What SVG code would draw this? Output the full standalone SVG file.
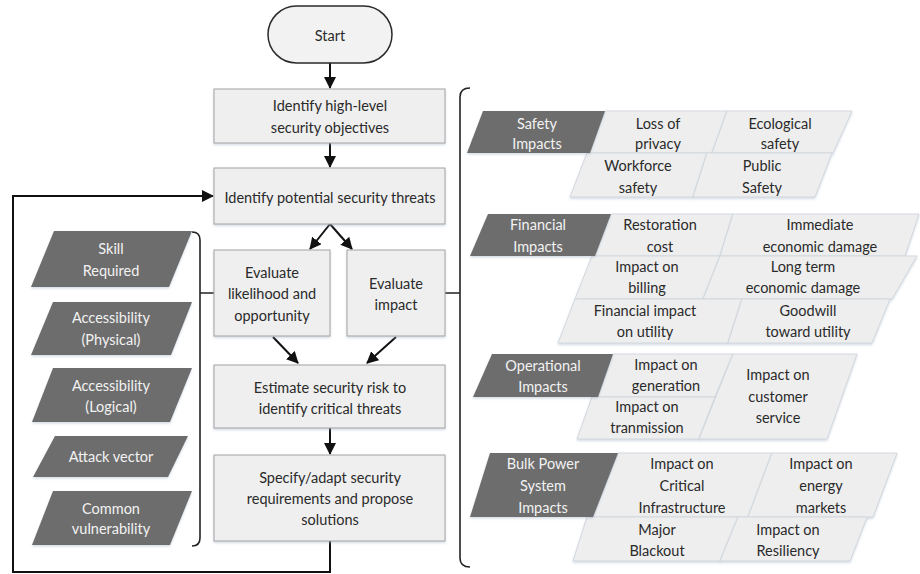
<svg xmlns="http://www.w3.org/2000/svg" width="920" height="574" viewBox="0 0 920 574">
<defs>
<style>
text{font-family:Lato,"Open Sans","Liberation Sans",sans-serif;font-size:14.5px;text-anchor:middle;dominant-baseline:central;fill:#2a2a2a}
.box{fill:#efefef;stroke:#a3a3a3;stroke-width:1;filter:url(#sh)}
.term{fill:#f2f2f2;stroke:#2a2a2a;stroke-width:1.5}
.dark{fill:#6d6d6d;filter:url(#sh)}
.dt{fill:#f2f2f2}
.cell{fill:#eeeeee;stroke:#d3d8de;stroke-width:1;filter:url(#sh)}
.ln{fill:none;stroke:#111;stroke-width:2}
.br{fill:none;stroke:#222;stroke-width:1.6}
</style>
<filter id="sh" x="-10%" y="-10%" width="120%" height="130%"><feDropShadow dx="0" dy="1.5" stdDeviation="1.2" flood-color="#9fb0c4" flood-opacity="0.45"/></filter>
<marker id="ah" markerWidth="12" markerHeight="12" refX="11" refY="6" orient="auto" markerUnits="userSpaceOnUse"><path d="M0,0 L12,6 L0,12 Z" fill="#111"/></marker>
</defs>
<rect width="920" height="574" fill="#ffffff"/>

<g id="connectors">
<path class="ln" d="M330,63 L330,88" marker-end="url(#ah)"/>
<path class="ln" d="M330,143 L330,167" marker-end="url(#ah)"/>
<path class="ln" d="M330,224 L310,249" marker-end="url(#ah)"/>
<path class="ln" d="M330,224 L352,249" marker-end="url(#ah)"/>
<path class="ln" d="M273,337 L298,363" marker-end="url(#ah)"/>
<path class="ln" d="M396,337 L367,363" marker-end="url(#ah)"/>
<path class="ln" d="M330,428 L330,454" marker-end="url(#ah)"/>
<path class="ln" d="M330,541 L330,572 L13,572 L13,196 L213,196" marker-end="url(#ah)"/>
<path class="br" d="M192,232 Q200,232 200,240 L200,538 Q200,546 192,546 M200,293 L215,293"/>
<path class="br" d="M470,88 Q460,88 460,97 L460,558 Q460,567 470,567 M445,293 L460,293"/>
</g>

<g id="start"><rect class="term" x="268" y="6" width="124" height="57" rx="28.5"/><text x="330" y="35">Start</text></g>
<g id="objectives"><rect class="box" x="214" y="89" width="231" height="54"/><text x="330" y="105">Identify high-level</text><text x="330" y="127">security objectives</text></g>
<g id="threats"><rect class="box" x="214" y="168" width="231" height="56"/><text x="330" y="197">Identify potential security threats</text></g>
<g id="likelihood"><rect class="box" x="214" y="250" width="116" height="86"/><text x="272" y="272">Evaluate</text><text x="272" y="293">likelihood and</text><text x="272" y="315">opportunity</text></g>
<g id="impact"><rect class="box" x="347" y="250" width="98" height="86"/><text x="396" y="283">Evaluate</text><text x="396" y="304">impact</text></g>
<g id="estimate"><rect class="box" x="214" y="365" width="231" height="63"/><text x="330" y="387">Estimate security risk to</text><text x="330" y="408">identify critical threats</text></g>
<g id="specify"><rect class="box" x="214" y="455" width="231" height="86"/><text x="330" y="477">Specify/adapt security</text><text x="330" y="498">requirements and propose</text><text x="330" y="519">solutions</text></g>

<g id="skill"><polygon class="dark" points="54,231 192,231 169,287 31,287"/><text class="dt" x="111" y="248">Skill</text><text class="dt" x="111" y="270">Required</text></g>
<g id="acc-phys"><polygon class="dark" points="53,302 192,302 171,355 31,355"/><text class="dt" x="111" y="317">Accessibility</text><text class="dt" x="111" y="339">(Physical)</text></g>
<g id="acc-log"><polygon class="dark" points="53,368 192,368 170,422 32,422"/><text class="dt" x="111" y="385">Accessibility</text><text class="dt" x="111" y="406">(Logical)</text></g>
<g id="attack"><polygon class="dark" points="55,436 188,436 168,477 33,477"/><text class="dt" x="111" y="456">Attack vector</text></g>
<g id="common"><polygon class="dark" points="53,491 192,491 170,545 32,545"/><text class="dt" x="111" y="508">Common</text><text class="dt" x="111" y="528">vulnerability</text></g>

<g id="safety">
<polygon class="cell" points="605,111 727,111 712,153 590,153"/>
<polygon class="cell" points="727,111 852,111 833,153 712,153"/>
<polygon class="cell" points="587,153 707,153 693,197 570,197"/>
<polygon class="cell" points="707,153 832,153 815,197 693,197"/>
<polygon class="dark" points="483,111 605,111 590,153 467,153"/>
<text class="dt" x="537" y="123">Safety</text><text class="dt" x="537" y="143">Impacts</text>
<text x="658" y="123">Loss of</text><text x="658" y="143">privacy</text>
<text x="780" y="123">Ecological</text><text x="780" y="143">safety</text>
<text x="638" y="165">Workforce</text><text x="638" y="187">safety</text>
<text x="762" y="165">Public</text><text x="762" y="187">Safety</text>
</g>

<g id="financial">
<polygon class="cell" points="611,214 733,214 720,256 595,256"/>
<polygon class="cell" points="733,214 919,214 905,256 720,256"/>
<polygon class="cell" points="592,256 720,256 703,299 575,299"/>
<polygon class="cell" points="720,256 917,256 892,299 703,299"/>
<polygon class="cell" points="575,299 742,299 728,343 558,343"/>
<polygon class="cell" points="742,299 890,299 872,343 728,343"/>
<polygon class="dark" points="488,214 611,214 595,256 470,256"/>
<text class="dt" x="538" y="224">Financial</text><text class="dt" x="538" y="246">Impacts</text>
<text x="660" y="224">Restoration</text><text x="660" y="246">cost</text>
<text x="820" y="224">Immediate</text><text x="820" y="246">economic damage</text>
<text x="647" y="266">Impact on</text><text x="647" y="287">billing</text>
<text x="803" y="266">Long term</text><text x="803" y="287">economic damage</text>
<text x="645" y="310">Financial impact</text><text x="645" y="331">on utility</text>
<text x="808" y="310">Goodwill</text><text x="808" y="331">toward utility</text>
</g>

<g id="operational">
<polygon class="cell" points="613,354 733,354 715,397 598,397"/>
<polygon class="cell" points="592,397 715,397 699,439 577,439"/>
<polygon class="cell" points="733,354 857,354 827,439 699,439"/>
<polygon class="dark" points="492,354 613,354 598,397 473,397"/>
<text class="dt" x="543" y="365">Operational</text><text class="dt" x="543" y="386">Impacts</text>
<text x="666" y="364">Impact on</text><text x="666" y="385">generation</text>
<text x="647" y="406">Impact on</text><text x="647" y="427">tranmission</text>
<text x="778" y="374">Impact on</text><text x="778" y="396">customer</text><text x="778" y="417">service</text>
</g>

<g id="bulk">
<polygon class="cell" points="618,453 772,453 748,517 593,517"/>
<polygon class="cell" points="772,453 897,453 873,517 748,517"/>
<polygon class="cell" points="587,517 738,517 720,561 573,561"/>
<polygon class="cell" points="738,517 867,517 850,561 720,561"/>
<polygon class="dark" points="490,453 618,453 593,517 470,517"/>
<text class="dt" x="543" y="463">Bulk Power</text><text class="dt" x="543" y="485">System</text><text class="dt" x="543" y="507">Impacts</text>
<text x="682" y="463">Impact on</text><text x="682" y="485">Critical</text><text x="682" y="507">Infrastructure</text>
<text x="821" y="463">Impact on</text><text x="821" y="485">energy</text><text x="821" y="507">markets</text>
<text x="657" y="529">Major</text><text x="657" y="550">Blackout</text>
<text x="788" y="529">Impact on</text><text x="788" y="550">Resiliency</text>
</g>
</svg>
